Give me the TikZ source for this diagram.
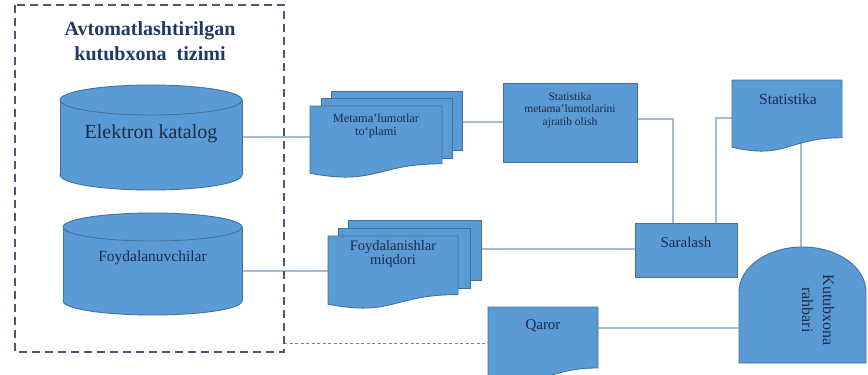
\documentclass[tikz,border=0pt]{standalone}
\usepackage{fontspec}
\setmainfont{Liberation Serif}
\definecolor{boxfill}{HTML}{5B9BD5}
\definecolor{boxline}{HTML}{41719C}
\definecolor{txtc}{HTML}{1B2A47}
\definecolor{ttlc}{HTML}{203864}
\definecolor{connc}{HTML}{A7BAD5}
\definecolor{framec}{HTML}{4A5A72}
\tikzset{
  shp/.style={fill=boxfill, draw=boxline, line width=0.9pt},
  cn/.style={draw=connc, line width=1.1pt},
  lbl/.style={text=txtc, inner sep=0pt, align=center},
  framebox/.style={draw=framec, line width=1.8pt, dash pattern=on 8pt off 5pt},
  dotconn/.style={draw=framec!75, line width=0.8pt, dash pattern=on 3pt off 2.5pt},
}
% document shape: x y w h
\newcommand\docshape[4]{\path[shp] (#1,#2) -- (#1+#3,#2) -- (#1+#3,#2+0.802*#4) .. controls (#1+0.5*#3,#2+0.802*#4) and (#1+0.5*#3,#2+1.107*#4) .. (#1,#2+0.934*#4) -- cycle;}
% cylinder: cx rx ytopcenter ybotcenter ry
\newcommand\cylshape[5]{%
  \path[shp] (#1,#4) ellipse ({#2pt} and {#5pt});
  \fill[boxfill] (#1-#2,#3) rectangle (#1+#2,#4);
  \draw[boxline, line width=0.9pt] (#1-#2,#3) -- (#1-#2,#4) (#1+#2,#3) -- (#1+#2,#4);
  \path[shp] (#1,#3) ellipse ({#2pt} and {#5pt});
}
\begin{document}
\begin{tikzpicture}[x=1pt,y=-1pt]
\useasboundingbox (0,0) rectangle (868,375);
\fill[white] (0,0) rectangle (868,375);
\begin{scope}
\clip (0,0) rectangle (868,375);
% connection points
\coordinate (cylAout) at (242,137);
\coordinate (metaIn) at (310,137);
\coordinate (metaOut) at (462,122);
\coordinate (statIn) at (503,122);
\coordinate (statOut) at (637,119);
\coordinate (sarTopA) at (673,223);
\coordinate (sarTopB) at (716,223);
\coordinate (stdocIn) at (733,118);
\coordinate (stdocOut) at (801,140);
\coordinate (kutTop) at (801,247);
\coordinate (foydOut) at (481,249);
\coordinate (sarIn) at (635,249);
\coordinate (cylBout) at (242,271);
\coordinate (foydIn) at (328,271);
\coordinate (qarOut) at (598,328);
\coordinate (kutIn) at (739,328);
\coordinate (frameOut) at (284,343);
\coordinate (qarIn) at (488,343);
% connectors
\draw[cn] (cylAout) -- (metaIn);
\draw[cn] (metaOut) -- (statIn);
\draw[cn] (statOut) -| (sarTopA);
\draw[cn] (sarTopB) |- (stdocIn);
\draw[cn] (stdocOut) -- (kutTop);
\draw[cn] (foydOut) -- (sarIn);
\draw[cn] (cylBout) -- (foydIn);
\draw[cn] (qarOut) -- (kutIn);
\draw[dotconn] (frameOut) -- (qarIn);
% cylinders
\cylshape{151}{91}{100}{175}{15}
\cylshape{152.5}{89.5}{227}{301}{14}
% multidocument 1
\path[shp] (331,91) rectangle (462,150);
\path[shp] (321,98) rectangle (452,158);
\docshape{310}{106}{132}{72}
% multidocument 2
\path[shp] (348,220) rectangle (481,280);
\path[shp] (338,228) rectangle (470,288);
\docshape{328}{236}{130}{73}
% boxes
\node[shp, minimum width=134pt, minimum height=79pt, inner sep=0pt] (statbox) at (570,122.5) {};
\node[shp, minimum width=102pt, minimum height=54pt, inner sep=0pt] (saralash) at (686,250) {};
% statistika document
\docshape{732}{80}{110}{72}
% qaror document
\docshape{488}{307}{110}{76}
% kutubxona rahbari (delay shape)
\path[shp] (739,363) -- (739,292) .. controls (739,267.15) and (767.43,247) .. (802.5,247)
  .. controls (837.57,247) and (866,267.15) .. (866,292) -- (866,363) -- cycle;
\end{scope}
% frame
\draw[framebox] (15,5) rectangle (284,352);
% labels
\node[lbl, text=ttlc, font=\bfseries\fontsize{20}{25}\selectfont] (title) at (150,41) {Avtomatlashtirilgan\\kutubxona\ \ tizimi};
\node[lbl, font=\fontsize{20}{24}\selectfont] (ektxt) at (151,134) {Elektron katalog};
\node[lbl, font=\fontsize{15.5}{18}\selectfont] (foytxt) at (152.5,258) {Foydalanuvchilar};
\node[lbl, font=\fontsize{12.3}{13.5}\selectfont] (metatxt) at (376,126) {Metama'lumotlar\\to`plami};
\node[lbl, font=\fontsize{14.5}{14.5}\selectfont] (foydtxt) at (393,254) {Foydalanishlar\\miqdori};
\node[lbl, font=\fontsize{11.5}{12.5}\selectfont] (stattxt) at (570,110) {Statistika\\metama'lumotlarini\\ajratib olish};
\node[lbl, font=\fontsize{15}{18}\selectfont] (sartxt) at (686,242) {Saralash};
\node[lbl, font=\fontsize{15.5}{18}\selectfont] (stdtxt) at (788,99) {Statistika};
\node[lbl, font=\fontsize{15}{18}\selectfont] (qartxt) at (543,326) {Qaror};
\node[lbl, rotate=-90, font=\fontsize{16}{21}\selectfont] (kuttxt) at (818,310) {Kutubxona\\rahbari};
\end{tikzpicture}
\end{document}
